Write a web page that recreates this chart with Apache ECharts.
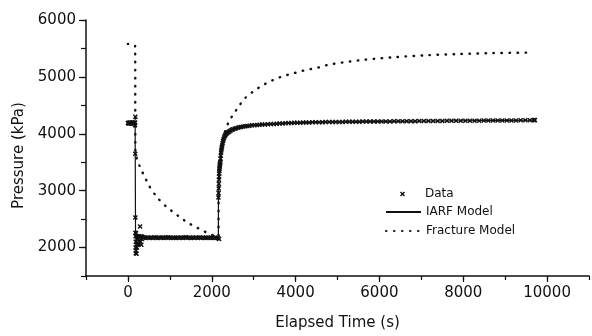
<!DOCTYPE html>
<html>
<head>
<meta charset="utf-8">
<script src="https://cdn.jsdelivr.net/npm/echarts@6/dist/echarts.min.js"></script>
<style>html,body{margin:0;padding:0;background:#fff;}#c{width:592px;height:336px;}</style>
</head>
<body>
<div id="c"></div>
<script>
// ---- Data markers (Elapsed time s, Pressure kPa) ----
const dataT = [
  0,10,20,30,40,50,60,70,80,90,100,110,120,130,140,150,160,170,172,178,
  175,178,180,182,184,186,188,190,195,200,205,210,215,220,230,240,250,260,270,280,290,300,310,320,330,340,
  350,390,430,470,510,550,590,630,670,710,750,790,830,870,910,950,990,1030,1070,1110,1150,1190,1230,1270,1310,1350,1390,1430,1470,1510,1550,1590,1630,1670,1710,1750,1790,1830,1870,1910,1950,1990,2030,2070,2110,2150,2175,
  2160,2163,2166,2169,2172,2175,2178,2181,2184,2188,2192,2196,2200,2205,2210,2216,2222,2228,2235,2242,2250,2260,2270,2282,2295,2310,2325,2340,2360,2380,2400,2425,2450,2480,2510,2545,2580,2620,2660,2700,2750,2800,2850,2900,2960,3020,3080,3140,3200,3270,3340,3410,3480,3550,3620,3690,3760,3830,3900,3970,4040,4110,4180,4250,4320,4400,4480,4560,4640,4720,4800,4880,4960,5040,5120,5200,5280,5360,5440,5520,5600,5690,5780,5870,5960,6050,6150,6250,6350,6450,6550,6650,6750,6850,6950,7060,7170,7280,7390,7500,7610,7720,7830,7940,8050,8160,8270,8380,8490,8600,8710,8820,8930,9040,9150,9260,9370,9480,9590,9680,9700,9710
];
const dataP = [
  4190,4185,4195,4180,4190,4200,4185,4190,4180,4195,4190,4185,4200,4190,4180,4195,4185,4200,4150,4300,
  3650,2530,2260,2200,2000,1900,2100,1950,2250,2050,1890,2150,2000,2200,2080,2150,2050,2200,2120,2180,2370,2100,2200,2050,2150,2190,
  2180,2175,2170,2178,2172,2176,2170,2180,2174,2168,2176,2172,2178,2170,2175,2180,2172,2170,2176,2174,2170,2178,2172,2175,2170,2176,2180,2172,2174,2170,2176,2172,2178,2170,2175,2172,2176,2170,2174,2178,2172,2170,2175,2172,2170,2168,2150,
  2880,2960,3040,3120,3190,3250,3300,3345,3385,3420,3445,3465,3480,3510,3560,3620,3670,3705,3740,3770,3800,3840,3875,3905,3935,3960,3980,3995,4010,4022,4033,4045,4058,4070,4080,4090,4098,4106,4113,4120,4127,4133,4138,4143,4148,4152,4155,4158,4161,4164,4167,4170,4173,4176,4179,4182,4185,4188,4190,4192,4194,4196,4197,4199,4200,4201,4202,4203,4204,4205,4206,4207,4208,4209,4209,4210,4211,4212,4212,4213,4214,4214,4215,4216,4216,4217,4218,4218,4219,4220,4220,4221,4222,4222,4223,4224,4224,4225,4226,4226,4227,4227,4228,4229,4229,4230,4230,4231,4232,4232,4233,4233,4234,4234,4235,4235,4236,4236,4237,4240,4238,4242
];

// ---- IARF model (solid line) ----
const iarfT = [0,172,182,2158,2160,2170,2185,2200,2230,2280,2370,2490,2760,3230,3840,5000,6000,7000,8000,9000,9710];
const iarfP = [4188,4188,2175,2175,2880,3144,3395,3480,3715,3895,4015,4075,4132,4163,4190,4208,4216,4223,4229,4234,4238];

// ---- Fracture model (dotted line) ----
const fracT = [0,172,178,200,233,312,390,506,700,933,1090,1246,1440,1633,1790,1946,2100,2160,2165,2200,2250,2300,2350,2413,2530,2646,2800,2996,3174,3360,3540,3734,3914,4107,4280,4474,4653,4784,5563,6341,7119,7897,8675,9648];
const fracP = [5580,5550,3700,3600,3522,3376,3260,3084,2881,2706,2619,2531,2432,2355,2297,2239,2200,2190,2900,3500,3850,4000,4110,4221,4356,4484,4630,4746,4834,4910,4968,5020,5055,5096,5125,5155,5183,5215,5295,5345,5380,5402,5418,5428];

// ---- Axis ticks / labels ----
const xMajorTicks = [0,2000,4000,6000,8000,10000];
const yMajorTicks = [2000,3000,4000,5000,6000];
const names = { data: 'Data', iarf: 'IARF Model', frac: 'Fracture Model', x: 'Elapsed Time (s)', y: 'Pressure (kPa)' };

const pairs = (a, b) => a.map((v, i) => [v, b[i]]);
const INK = '#111';
const FONT = 'DejaVu Sans';
const XPATH = 'path://M0,2L2,0L5,3L8,0L10,2L7,5L10,8L8,10L5,7L2,10L0,8L3,5Z';

const chart = echarts.init(document.getElementById('c'), null, { renderer: 'canvas' });

const baseX = {
  type: 'value', min: -1000, max: 11000, interval: 1000,
  splitLine: { show: false }
};
const baseY = {
  type: 'value', min: 1500, max: 6000, interval: 500,
  splitLine: { show: false }
};
const legendText = { fontFamily: FONT, fontSize: 12, color: INK };
const hiddenSymbol = { color: 'rgba(0,0,0,0)', borderColor: 'rgba(0,0,0,0)', borderWidth: 0 };

const option = {
  backgroundColor: '#fff',
  animation: false,
  textStyle: { fontFamily: FONT, color: INK },
  grid: { left: 86, top: 20, right: -8, bottom: 59, containLabel: false },
  xAxis: [
    Object.assign({}, baseX, {
      name: names.x, nameLocation: 'middle', nameGap: 40,
      nameTextStyle: { fontFamily: FONT, fontSize: 15, color: INK },
      axisLine: { show: true, onZero: false, lineStyle: { color: INK, width: 1.5 } },
      axisTick: { show: true, length: 4, lineStyle: { color: INK, width: 1.2 } },
      axisLabel: { show: true, margin: 10, fontFamily: FONT, fontSize: 15, color: INK,
        formatter: v => (xMajorTicks.indexOf(v) >= 0 ? String(v) : '') }
    }),
    Object.assign({}, baseX, {
      position: 'bottom',
      axisLine: { show: false, onZero: false },
      axisTick: { show: true, length: 6, customValues: xMajorTicks, lineStyle: { color: INK, width: 1.2 } },
      axisLabel: { show: false }
    })
  ],
  yAxis: [
    Object.assign({}, baseY, {
      name: names.y, nameLocation: 'middle', nameGap: 58,
      nameTextStyle: { fontFamily: FONT, fontSize: 15, color: INK, padding: [0, 15, 0, 0] },
      axisLine: { show: true, onZero: false, lineStyle: { color: INK, width: 1.5 } },
      axisTick: { show: true, length: 5, lineStyle: { color: INK, width: 1.2 } },
      axisLabel: { show: true, margin: 10, fontFamily: FONT, fontSize: 15, color: INK,
        formatter: v => (yMajorTicks.indexOf(v) >= 0 ? String(v) : '') }
    }),
    Object.assign({}, baseY, {
      position: 'left',
      axisLine: { show: false, onZero: false },
      axisTick: { show: true, length: 7, customValues: yMajorTicks, lineStyle: { color: INK, width: 1.2 } },
      axisLabel: { show: false }
    })
  ],
  legend: [
    { data: [{ name: names.data, icon: XPATH }], orient: 'vertical', left: 400, top: 188, padding: 0,
      itemWidth: 5, itemHeight: 5, itemGap: 0,
      textStyle: Object.assign({ padding: [0, 0, 0, 15] }, legendText) },
    { data: [{ name: names.iarf, itemStyle: hiddenSymbol }], orient: 'vertical', left: 385, top: 206, padding: 0,
      itemWidth: 35, itemHeight: 10, itemGap: 0, itemStyle: hiddenSymbol,
      textStyle: legendText },
    { data: [{ name: names.frac, itemStyle: hiddenSymbol }], orient: 'vertical', left: 385, top: 225, padding: 0,
      itemWidth: 35, itemHeight: 10, itemGap: 0, itemStyle: hiddenSymbol,
      textStyle: legendText }
  ],
  series: [
    {
      name: names.data, type: 'scatter', data: pairs(dataT, dataP),
      symbol: XPATH, symbolSize: 5,
      itemStyle: { color: INK, opacity: 1 },
      z: 2, silent: true
    },
    {
      name: names.iarf, type: 'line', data: pairs(iarfT, iarfP),
      symbol: 'none', showSymbol: false,
      lineStyle: { color: INK, width: 1.2 },
      itemStyle: { color: INK },
      z: 3, silent: true
    },
    {
      name: names.frac, type: 'line', data: pairs(fracT, fracP),
      symbol: 'none', showSymbol: false, smooth: 0.3,
      lineStyle: { color: INK, width: 2.4, type: [0.5, 7.5], cap: 'round' },
      itemStyle: { color: INK },
      z: 4, silent: true
    }
  ]
};
chart.setOption(option);
</script>
</body>
</html>
